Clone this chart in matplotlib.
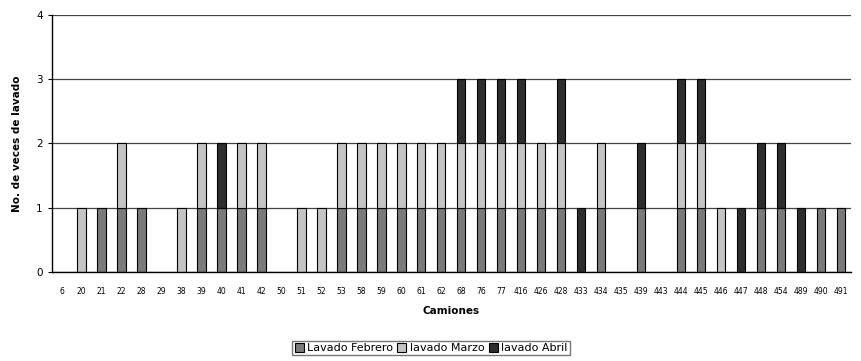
import numpy as np
import matplotlib.pyplot as plt

camiones = ['6', '20', '21', '22', '28', '29', '38', '39', '40', '41', '42', '50', '51', '52',
            '53', '58', '59', '60', '61', '62', '68', '76', '77', '416', '426', '428', '433',
            '434', '435', '439', '443', '444', '445', '446', '447', '448', '454', '489', '490', '491']

febrero = [0, 0, 1, 1, 1, 0, 0, 1, 1, 1, 1, 0, 0, 0,
           1, 1, 1, 1, 1, 1, 1, 1, 1, 1, 1, 1, 0,
           1, 0, 1, 0, 1, 1, 0, 0, 1, 1, 0, 1, 1]
marzo = [0, 1, 0, 1, 0, 0, 1, 1, 0, 1, 1, 0, 1, 1,
         1, 1, 1, 1, 1, 1, 1, 1, 1, 1, 1, 1, 0,
         1, 0, 0, 0, 1, 1, 1, 0, 0, 0, 0, 0, 0]
abril = [0, 0, 0, 0, 0, 0, 0, 0, 1, 0, 0, 0, 0, 0,
         0, 0, 0, 0, 0, 0, 1, 1, 1, 1, 0, 1, 1,
         0, 0, 1, 0, 1, 1, 0, 1, 1, 1, 1, 0, 0]

x = np.arange(len(camiones))
feb = np.array(febrero)
mar = np.array(marzo)
abr = np.array(abril)

fig = plt.figure(figsize=(8.62, 3.61), dpi=100)
ax = fig.add_axes([0.06, 0.247, 0.927, 0.711])

ax.set_axisbelow(True)
ax.yaxis.grid(True, color='#444444', linewidth=0.9)

w = 0.42
# only draw segments that have a value, so empty trucks show nothing
m = feb > 0
ax.bar(x[m], feb[m], w, color='#7a7a7a', edgecolor='black', linewidth=0.8, label='Lavado Febrero')
m = mar > 0
ax.bar(x[m], mar[m], w, bottom=feb[m], color='#c4c4c4', edgecolor='black', linewidth=0.8, label='lavado Marzo')
m = abr > 0
ax.bar(x[m], abr[m], w, bottom=(feb + mar)[m], color='#2e2e2e', edgecolor='black', linewidth=0.8, label='lavado Abril')

ax.set_xlim(-0.5, len(camiones) - 0.5)
ax.set_ylim(0, 4)
ax.set_yticks([0, 1, 2, 3, 4])
ax.set_xticks(x)
ax.set_xticklabels(camiones, fontsize=5.5)
ax.tick_params(axis='y', labelsize=7.5, length=3)
ax.tick_params(axis='x', length=0, pad=11)

for s in ['top', 'right']:
    ax.spines[s].set_visible(False)
ax.spines['left'].set_linewidth(1.0)
ax.spines['bottom'].set_linewidth(1.0)

ax.set_xlabel('Camiones', fontsize=7.5, fontweight='bold', labelpad=7)
ax.set_ylabel('No. de veces de lavado', fontsize=7.5, fontweight='bold', labelpad=10)

fig.legend(loc='lower center', bbox_to_anchor=(0.5, 0.0), ncol=3, fontsize=8,
           frameon=True, edgecolor='#555555', fancybox=False, handlelength=0.8,
           handleheight=0.8, handletextpad=0.3, columnspacing=0.4, borderpad=0.2)

plt.savefig('out.png', dpi=100)
